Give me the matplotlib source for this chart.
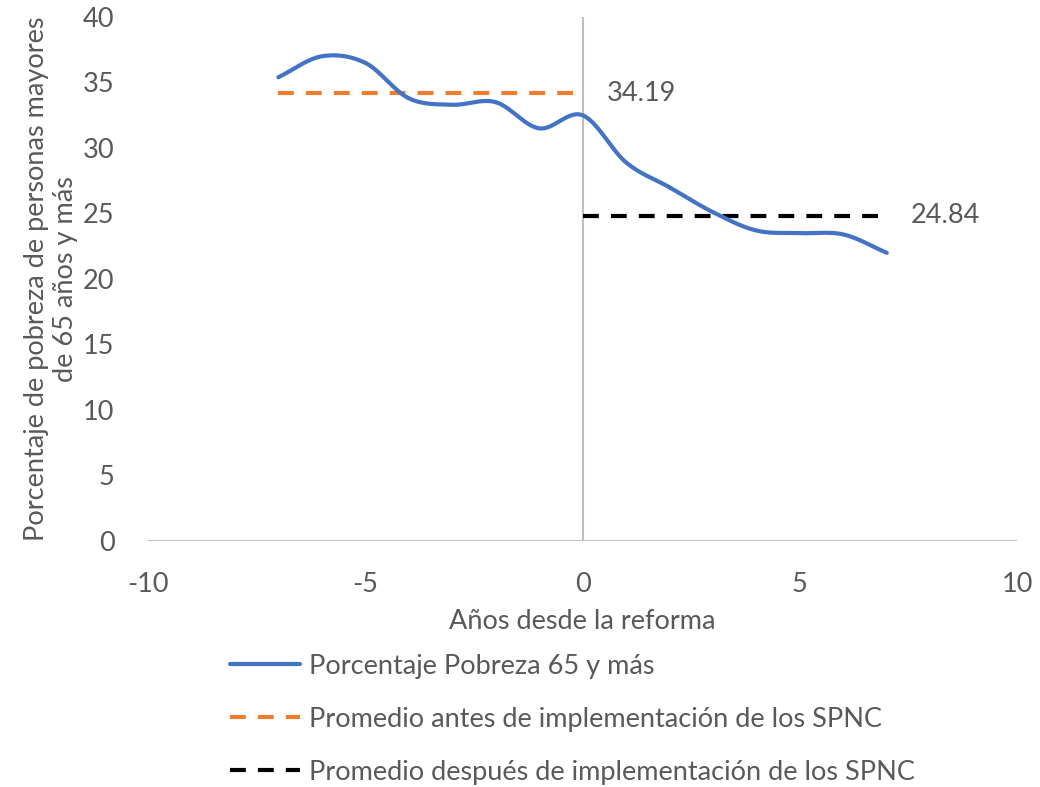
import numpy as np
import matplotlib
matplotlib.use("Agg")
import matplotlib.pyplot as plt

plt.rcParams['font.family'] = ['Lato', 'DejaVu Sans']
plt.rcParams['axes.unicode_minus'] = False

# datos
anios = [-7, -6, -5, -4, -3, -2, -1, 0, 1, 2, 3, 4, 5, 6, 7]
pobreza = [35.4, 37.0, 36.5, 33.8, 33.3, 33.5, 31.5, 32.5,
           28.9, 27.0, 25.1, 23.7, 23.5, 23.4, 22.0]
prom_antes = 34.19
prom_despues = 24.84
x_antes = [-7, 0]
x_despues = [0, 7]

azul = '#4472C4'
naranja = '#ED7D31'
gris_txt = '#595959'
gris_eje = '#BFBFBF'
fs = 19.5


def suavizar(x, y, n=30):
    # curva tipo Catmull-Rom (como la linea suavizada de Excel)
    x = np.asarray(x, float)
    y = np.asarray(y, float)
    px = np.concatenate([[2 * x[0] - x[1]], x, [2 * x[-1] - x[-2]]])
    py = np.concatenate([[2 * y[0] - y[1]], y, [2 * y[-1] - y[-2]]])
    t = np.linspace(0, 1, n)
    xs, ys = [], []
    for i in range(1, len(px) - 2):
        for arr, out in ((px, xs), (py, ys)):
            p0, p1, p2, p3 = arr[i - 1], arr[i], arr[i + 1], arr[i + 2]
            out.append(0.5 * ((2 * p1) + (-p0 + p2) * t
                              + (2 * p0 - 5 * p1 + 4 * p2 - p3) * t ** 2
                              + (-p0 + 3 * p1 - 3 * p2 + p3) * t ** 3))
    return np.concatenate(xs), np.concatenate(ys)


fig = plt.figure(figsize=(10.4, 7.87), dpi=100)
ax = fig.add_axes([0.1423, 0.3126, 0.8357, 0.6658])

xs, ys = suavizar(anios, pobreza)
ax.plot(xs, ys, color=azul, lw=3, solid_capstyle='round',
        label='Porcentaje Pobreza 65 y más', zorder=4)
ax.plot(x_antes, [prom_antes] * 2, color=naranja, lw=3, dashes=(3.8, 2.9),
        label='Promedio antes de implementación de los SPNC', zorder=3)
ax.plot(x_despues, [prom_despues] * 2, color='black', lw=3, dashes=(3.8, 2.9),
        label='Promedio después de implementación de los SPNC', zorder=3)

ax.text(0.55, prom_antes, f'{prom_antes:.2f}', fontsize=fs, color=gris_txt,
        va='center', ha='left')
ax.text(7.55, prom_despues, f'{prom_despues:.2f}', fontsize=fs, color=gris_txt,
        va='center', ha='left')

ax.set_xlim(-10, 10)
ax.set_ylim(0, 40)
ax.set_xticks(range(-10, 11, 5))
ax.set_yticks(range(0, 41, 5))
for s in ax.spines.values():
    s.set_visible(False)
ax.axhline(0, color=gris_eje, lw=1.5, zorder=1)
ax.axvline(0, color=gris_eje, lw=1.5, zorder=1)
ax.tick_params(axis='y', length=0, labelsize=fs, labelcolor=gris_txt, pad=24)
ax.tick_params(axis='x', length=0, labelsize=fs, labelcolor=gris_txt, pad=22)

ax.set_xlabel('Años desde la reforma', fontsize=fs, color=gris_txt, va='center')
ax.xaxis.set_label_coords(0.5, -0.1546)
ax.set_ylabel('Porcentaje de pobreza de personas mayores\nde 65 años y más',
              fontsize=fs, color=gris_txt, linespacing=1.2, va='center',
              multialignment='center')
ax.yaxis.set_label_coords(-0.1116, 0.5)

fig.legend(loc='upper left', bbox_to_anchor=(0.2212, 0.1696), frameon=False,
           fontsize=fs, handlelength=2.6, handletextpad=0.3, labelspacing=1.04,
           labelcolor=gris_txt, borderpad=0, borderaxespad=0)

fig.savefig('out.png', dpi=100)
